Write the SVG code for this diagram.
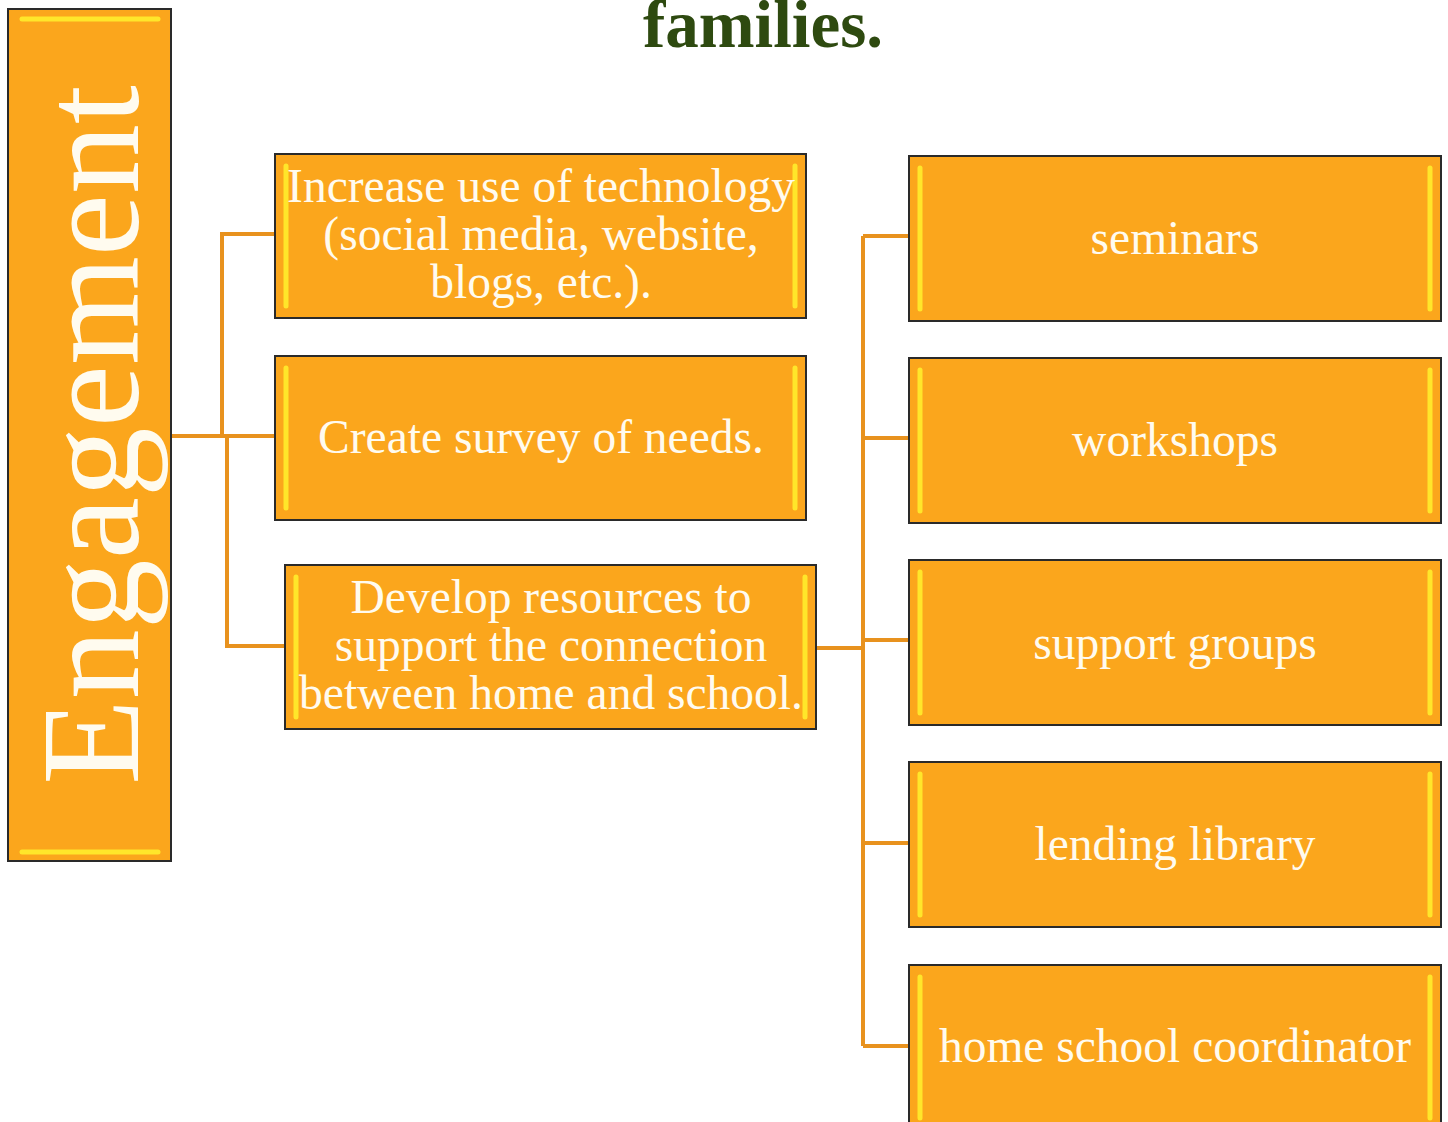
<svg xmlns="http://www.w3.org/2000/svg" width="1448" height="1122" viewBox="0 0 1448 1122">
<style>
.box{fill:#FBA61C;stroke:#2a2a2a;stroke-width:2}
.hl{stroke:#FFE62A;stroke-width:5;stroke-linecap:round;fill:none}
.t{font-family:"Liberation Serif",serif;fill:#FFFBEF;font-size:47.5px;text-anchor:middle}
.big{font-size:140px}
.c{fill:none;stroke:#E8921E;stroke-width:4}
</style>
<rect width="1448" height="1122" fill="#ffffff"/>
<text x="763" y="47" font-family="Liberation Serif, serif" font-weight="bold" font-size="67" fill="#2E4A10" text-anchor="middle">families.</text>
<g id="connectors">
<path class="c" d="M171 436 H275 M222 436 V234 H275 M227 436 V646 H285"/>
<path class="c" d="M816 648 H863 M863 236 V1046 M863 236 H909 M863 438 H909 M863 640 H909 M863 843 H909 M863 1046 H909"/>
</g>
<g id="engagement">
<rect class="box" x="8" y="9" width="163" height="852"/>
<line class="hl" x1="22" y1="19" x2="158" y2="19"/>
<line class="hl" x1="22" y1="852" x2="158" y2="852"/>
<text class="t big" transform="translate(138 435) rotate(-90)">Engagement</text>
</g>
<g id="n1">
<rect class="box" x="275" y="154" width="531" height="164"/>
<line class="hl" x1="286" y1="166" x2="286" y2="306"/>
<line class="hl" x1="795" y1="166" x2="795" y2="306"/>
<text class="t" x="541" y="202">Increase use of technology</text>
<text class="t" x="541" y="250">(social media, website,</text>
<text class="t" x="541" y="298">blogs, etc.).</text>
</g>
<g id="n2">
<rect class="box" x="275" y="356" width="531" height="164"/>
<line class="hl" x1="286" y1="368" x2="286" y2="508"/>
<line class="hl" x1="795" y1="368" x2="795" y2="508"/>
<text class="t" x="541" y="453">Create survey of needs.</text>
</g>
<g id="n3">
<rect class="box" x="285" y="565" width="531" height="164"/>
<line class="hl" x1="296" y1="577" x2="296" y2="717"/>
<line class="hl" x1="805" y1="577" x2="805" y2="717"/>
<text class="t" x="551" y="613">Develop resources to</text>
<text class="t" x="551" y="661">support the connection</text>
<text class="t" x="551" y="709">between home and school.</text>
</g>
<g id="r1">
<rect class="box" x="909" y="156" width="532" height="165"/>
<line class="hl" x1="920" y1="168" x2="920" y2="309"/>
<line class="hl" x1="1430" y1="168" x2="1430" y2="309"/>
<text class="t" x="1175" y="254">seminars</text>
</g>
<g id="r2">
<rect class="box" x="909" y="358" width="532" height="165"/>
<line class="hl" x1="920" y1="370" x2="920" y2="511"/>
<line class="hl" x1="1430" y1="370" x2="1430" y2="511"/>
<text class="t" x="1175" y="456">workshops</text>
</g>
<g id="r3">
<rect class="box" x="909" y="560" width="532" height="165"/>
<line class="hl" x1="920" y1="572" x2="920" y2="713"/>
<line class="hl" x1="1430" y1="572" x2="1430" y2="713"/>
<text class="t" x="1175" y="659">support groups</text>
</g>
<g id="r4">
<rect class="box" x="909" y="762" width="532" height="165"/>
<line class="hl" x1="920" y1="774" x2="920" y2="915"/>
<line class="hl" x1="1430" y1="774" x2="1430" y2="915"/>
<text class="t" x="1175" y="860">lending library</text>
</g>
<g id="r5">
<rect class="box" x="909" y="965" width="532" height="165"/>
<line class="hl" x1="920" y1="977" x2="920" y2="1118"/>
<line class="hl" x1="1430" y1="977" x2="1430" y2="1118"/>
<text class="t" x="1175" y="1062">home school coordinator</text>
</g>
</svg>
